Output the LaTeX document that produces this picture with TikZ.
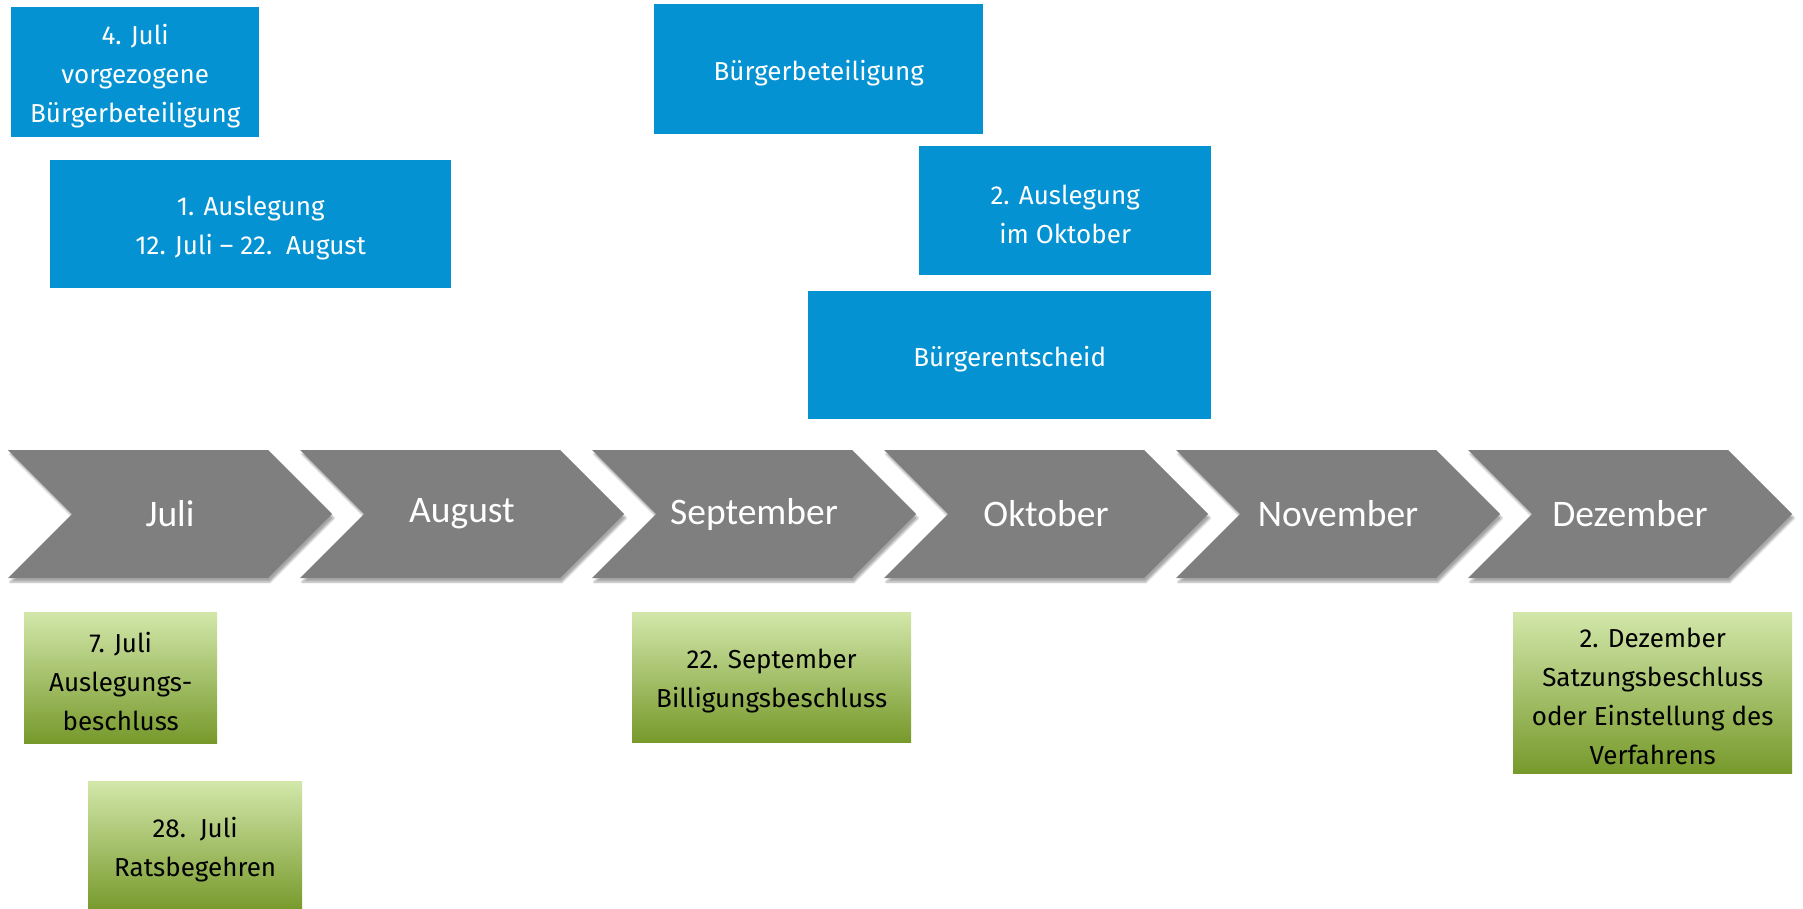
\documentclass[tikz,border=0pt]{standalone}
\usepackage{fontspec}
\setmainfont{Carlito}
\newfontfamily\boxfont{Fira Sans}
\usetikzlibrary{shadows.blur}
\definecolor{bblue}{HTML}{0492D2}
\definecolor{cgray}{HTML}{7F7F7F}
\definecolor{gtop}{HTML}{D2E7AA}
\definecolor{gbot}{HTML}{77992B}
\begin{document}
\begin{tikzpicture}[x=1pt,y=-1pt,
  boxtext/.style={font=\boxfont\fontsize{26}{39}\selectfont, align=center,
    inner sep=0pt, yshift=-3.5pt},
  bluebox/.style={fill=bblue, inner sep=0pt, anchor=north west,
    label={[boxtext, text=white]center:{#1}}},
  greenbox/.style={top color=gtop, bottom color=gbot, inner sep=0pt, anchor=north west,
    label={[boxtext, text=black]center:{#1}}},
  chev/.style={fill=cgray, blur shadow={shadow xshift=2pt, shadow yshift=-4pt,
    shadow blur steps=6, shadow opacity=35}},
  month/.style={text=white, font=\fontsize{37.5}{40}\selectfont}]
\useasboundingbox (0,0) rectangle (1803,909);

% timeline chevrons
\foreach \i/\m in {0/Juli,1/August,2/September,3/Oktober,4/November,5/Dezember}{
  \pgfmathsetmacro{\L}{8+292*\i}
  \path[chev] (\L,450) -- (\L+260,450) -- (\L+324,514) -- (\L+260,578)
     -- (\L,578) -- (\L+64,514) -- cycle;
  \node[month] (m\i) at (\L+162,514) {\m};
}

% blue boxes
\node[bluebox={4. Juli\\vorgezogene\\Bürgerbeteiligung},
  minimum width=248, minimum height=130] (b1) at (11,7) {};
\node[bluebox={1. Auslegung\\12. Juli – 22.\ \ August},
  minimum width=401, minimum height=128] (b2) at (50,160) {};
\node[bluebox={Bürgerbeteiligung},
  minimum width=329, minimum height=130] (b3) at (654,4) {};
\node[bluebox={2. Auslegung\\im Oktober},
  minimum width=292, minimum height=129] (b4) at (919,146) {};
\node[bluebox={Bürgerentscheid},
  minimum width=403, minimum height=128] (b5) at (808,291) {};

% green boxes
\node[greenbox={7. Juli\\Auslegungs-\\beschluss},
  minimum width=193, minimum height=131] (g1) at (24,612) {};
\node[greenbox={28.\ \ Juli\\Ratsbegehren},
  minimum width=214, minimum height=130] (g2) at (88,781) {};
\node[greenbox={22. September\\Billigungsbeschluss},
  minimum width=279, minimum height=130] (g3) at (632,612) {};
\node[greenbox={2. Dezember\\Satzungsbeschluss\\oder Einstellung des\\Verfahrens},
  minimum width=279, minimum height=161] (g4) at (1513,612) {};
\end{tikzpicture}
\end{document}
